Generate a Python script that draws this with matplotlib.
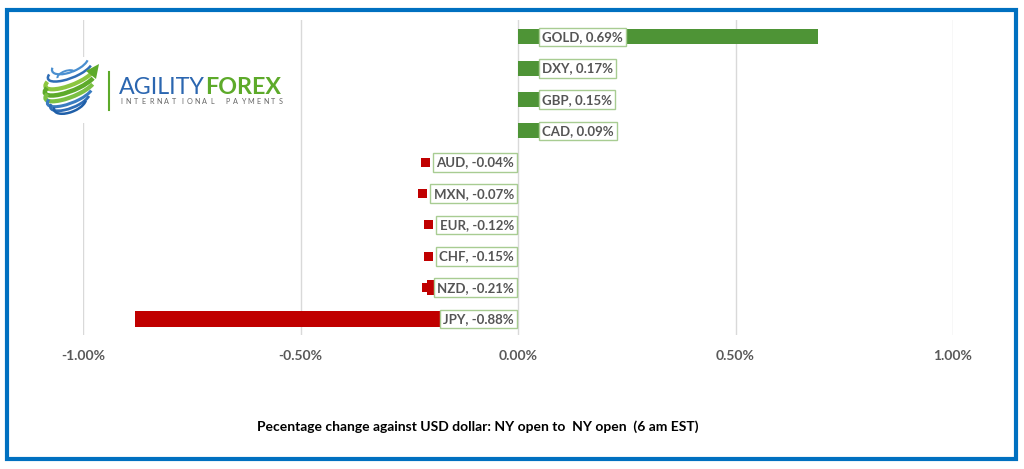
import matplotlib
matplotlib.use('Agg')
import matplotlib.pyplot as plt
from matplotlib.patches import Rectangle, Arc, Polygon
from matplotlib.transforms import IdentityTransform
import numpy as np

currencies = ["GOLD", "DXY", "GBP", "CAD", "AUD", "MXN", "EUR", "CHF", "NZD", "JPY"]
changes = [0.69, 0.17, 0.15, 0.09, -0.04, -0.07, -0.12, -0.15, -0.21, -0.88]
xticks = [-1.0, -0.5, 0.0, 0.5, 1.0]
xtick_labels = ["-1.00%", "-0.50%", "0.00%", "0.50%", "1.00%"]
caption = "Pecentage change against USD dollar: NY open to  NY open  (6 am EST)"

GREEN = '#4E9436'
RED = '#C00000'
FONT = ['Lato', 'DejaVu Sans']

W, H = 1024, 469
fig = plt.figure(figsize=(W / 100, H / 100), dpi=100)
fig.patch.set_facecolor('white')

ax = fig.add_axes([83 / W, 1 - 335 / H, (953 - 83) / W, 315 / H])
y = np.arange(len(currencies))
colors = [GREEN if v > 0 else RED for v in changes]
ax.barh(y, changes, height=0.48, color=colors, zorder=2)
ax.set_xlim(-1, 1)
ax.set_ylim(9.51, -0.54)
ax.set_xticks(xticks)
ax.set_xticklabels(xtick_labels, fontweight='bold', family=FONT, fontsize=10, color='#595959')
ax.set_yticks([])
ax.grid(axis='x', color='#D9D9D9', lw=1)
ax.set_axisbelow(True)
for s in ax.spines.values():
    s.set_visible(False)
ax.tick_params(axis='x', length=0, pad=11)

anns = []
for i, (c, v) in enumerate(zip(currencies, changes)):
    off = 17.3 if v > 0 else -2.9
    a = ax.annotate(f"{c}, {v:.2f}%", xy=(0, i), xytext=(off, 0),
                    textcoords='offset points',
                    ha='left' if v > 0 else 'right', va='center',
                    fontsize=9.5, fontweight='bold', color='#555555', family=FONT,
                    bbox=dict(boxstyle='square,pad=0.25', fc='white', ec='#A8CC92', lw=1),
                    zorder=5)
    anns.append((a, v))

# overlay
ov = fig.add_axes([0, 0, 1, 1], zorder=3)
ov.set_xlim(0, W)
ov.set_ylim(H, 0)
ov.axis('off')
ov.patch.set_alpha(0)

ov.add_patch(Rectangle((7, 10), 1009, 449, fill=False, ec='#0070C0', lw=3))
ov.text(478, 427, caption, ha='center', va='center', fontsize=10,
        family=FONT, color='black', fontweight='bold')

# logo
ov.add_patch(Rectangle((30, 57), 262, 66, fc='white', ec='none'))
ov.plot([109, 109], [72, 110], color='#5DAA2A', lw=1.5)
t1 = ov.text(119, 94, "AGILITY", va='baseline', ha='left', fontsize=18,
             color='#2B66B0', family=FONT, fontweight='normal')
t2 = ov.text(200, 94, "FOREX", va='baseline', ha='left', fontsize=18,
             color='#5DAA2A', family=FONT, fontweight='bold')

fig.canvas.draw()
rend = fig.canvas.get_renderer()
w1 = t1.get_window_extent(rend).width
w2 = t2.get_window_extent(rend).width
scale = 162.0 / (w1 + w2)
t1.set_fontsize(18 * scale)
t2.set_fontsize(18 * scale)
t2.set_x(119 + w1 * scale)

for a, v in anns:
    bb = a.get_bbox_patch().get_window_extent()
    cyy = (bb.y0 + bb.y1) / 2
    k = 9
    fig.add_artist(Rectangle((bb.x0 - 3 - k, cyy - k / 2), k, k,
                             fc=GREEN if v > 0 else RED, ec='none',
                             transform=IdentityTransform(), zorder=6))

sub = "INTERNATIONAL PAYMENTS"
for ch, xx in zip(sub, np.linspace(121, 281, len(sub))):
    ov.text(xx, 102, ch, ha='center', va='center', fontsize=5.2, color='#666666', family=FONT)

# globe
cx, cy0, R = 70, 89, 27
band = [(-19, '#4A8FD0', 1.6), (-13, '#2F6DB5', 1.8), (-6, '#8CC63F', 3.0),
        (0, '#5DAA2A', 3.2), (6, '#7BC043', 3.0), (12, '#3A7CC0', 2.2),
        (17, '#2F6DB5', 2.0), (21, '#1F5FA8', 1.8)]
for d, col, lw in band:
    wdt = 2 * np.sqrt(max(R ** 2 - d ** 2, 40))
    ov.add_patch(Arc((cx, cy0 + d - 6), wdt, 16, angle=-22, theta1=10, theta2=190,
                     color=col, lw=lw))
ov.add_patch(Arc((cx - 4, cy0 - 14), 18, 8, angle=-20, theta1=180, theta2=360,
                 color='#4A8FD0', lw=1.4))
ov.add_patch(Polygon([[86, 71], [99, 64], [96, 79]], closed=True, fc='#5DAA2A', ec='none'))

fig.savefig('out.png', dpi=100, facecolor='white')
